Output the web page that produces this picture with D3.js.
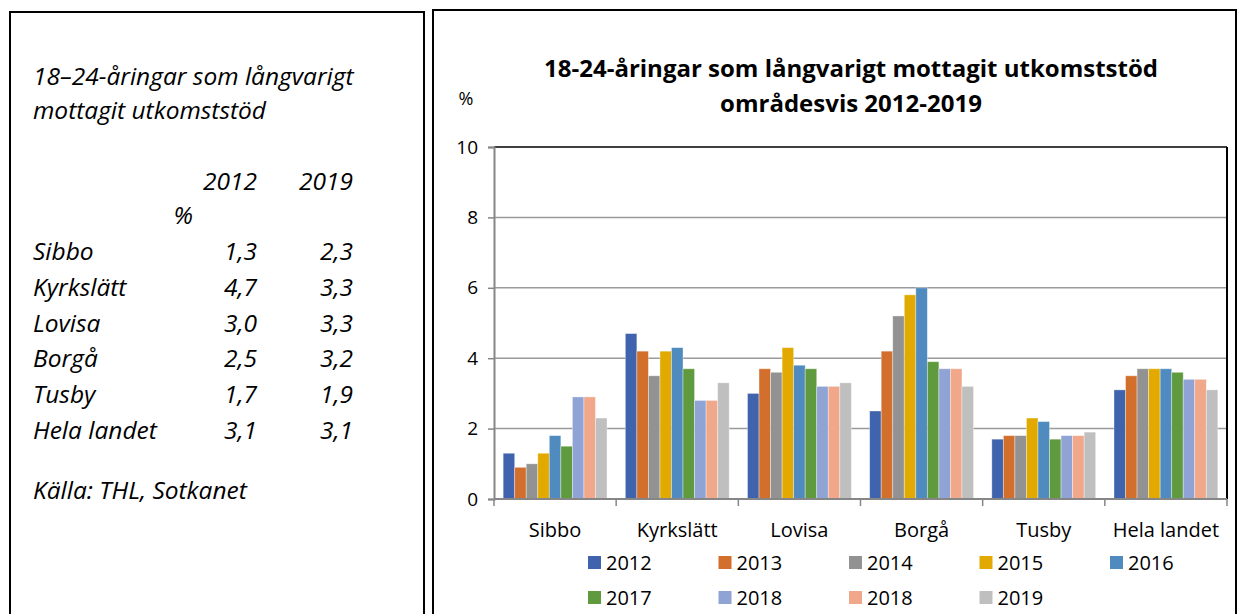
<!DOCTYPE html>
<html>
<head>
<meta charset="utf-8">
<script src="https://cdn.jsdelivr.net/npm/d3@7"></script>
<style>
  body { margin: 0; background: #fff; }
  svg text { font-family: "Open Sans", Lato, sans-serif; fill: #000; }
</style>
</head>
<body>
<svg id="chart" width="1237" height="614"></svg>
<script>
// chart data
const areas = ["Sibbo", "Kyrkslätt", "Lovisa", "Borgå", "Tusby", "Hela landet"];
const years = ["2012", "2013", "2014", "2015", "2016", "2017", "2018", "2018", "2019"];
const colors = ["#3f64ad", "#d36f2c", "#929292", "#e2aa00", "#4f8bbf", "#609a3e", "#8fa3d4", "#f0a78a", "#bfbfbf"];
// values per area, one per year series
const sibbo      = [1.3, 0.9, 1.0, 1.3, 1.8, 1.5, 2.9, 2.9, 2.3];
const kyrkslatt  = [4.7, 4.2, 3.5, 4.2, 4.3, 3.7, 2.8, 2.8, 3.3];
const lovisa     = [3.0, 3.7, 3.6, 4.3, 3.8, 3.7, 3.2, 3.2, 3.3];
const borga      = [2.5, 4.2, 5.2, 5.8, 6.0, 3.9, 3.7, 3.7, 3.2];
const tusby      = [1.7, 1.8, 1.8, 2.3, 2.2, 1.7, 1.8, 1.8, 1.9];
const helaLandet = [3.1, 3.5, 3.7, 3.7, 3.7, 3.6, 3.4, 3.4, 3.1];
const values = [sibbo, kyrkslatt, lovisa, borga, tusby, helaLandet];
const yTicks = [0, 2, 4, 6, 8, 10];

// left side text table
const tableRows = [
  ["Sibbo", "1,3", "2,3"],
  ["Kyrkslätt", "4,7", "3,3"],
  ["Lovisa", "3,0", "3,3"],
  ["Borgå", "2,5", "3,2"],
  ["Tusby", "1,7", "1,9"],
  ["Hela landet", "3,1", "3,1"]
];

const svg = d3.select("#chart");

// ---- left text box ----
svg.append("rect")
  .attr("x", 10).attr("y", 12).attr("width", 414).attr("height", 640)
  .attr("fill", "none").attr("stroke", "#000").attr("stroke-width", 2);

const left = svg.append("g").style("font-style", "italic").style("font-size", "24.5px");
left.append("text").attr("x", 33).attr("y", 85).text("18–24-åringar som långvarigt");
left.append("text").attr("x", 33).attr("y", 119).text("mottagit utkomststöd");
left.append("text").attr("x", 257).attr("y", 190).attr("text-anchor", "end").text("2012");
left.append("text").attr("x", 353).attr("y", 190).attr("text-anchor", "end").text("2019");
left.append("text").attr("x", 193).attr("y", 224).attr("text-anchor", "end").text("%");
tableRows.forEach((r, i) => {
  const y = 260 + i * 35.8;
  left.append("text").attr("x", 33).attr("y", y).text(r[0]);
  left.append("text").attr("x", 257).attr("y", y).attr("text-anchor", "end").text(r[1]);
  left.append("text").attr("x", 353).attr("y", y).attr("text-anchor", "end").text(r[2]);
});
left.append("text").attr("x", 33).attr("y", 499).text("Källa: THL, Sotkanet");

// ---- right chart box ----
svg.append("rect")
  .attr("x", 433).attr("y", 10).attr("width", 803).attr("height", 640)
  .attr("fill", "none").attr("stroke", "#000").attr("stroke-width", 2);

const plot = { left: 494, right: 1227, top: 147, bottom: 499 };

const x0 = d3.scaleBand().domain(areas).range([plot.left, plot.right]).paddingInner(0.15).paddingOuter(0.075);
const xBand = d3.scaleBand().domain(areas).range([plot.left, plot.right]);
const x1 = d3.scaleBand().domain(d3.range(years.length)).range([0, x0.bandwidth()]);
const y = d3.scaleLinear().domain([0, 10]).range([plot.bottom, plot.top]);

// gridlines
svg.append("g").selectAll("line").data(yTicks.filter(d => d > 0 && d < 10)).join("line")
  .attr("x1", plot.left).attr("x2", plot.right)
  .attr("y1", d => y(d)).attr("y2", d => y(d))
  .attr("stroke", "#9a9a9a").attr("stroke-width", 1.5);

// bars
const groups = svg.append("g").selectAll("g").data(areas).join("g")
  .attr("transform", d => `translate(${x0(d)},0)`);
groups.selectAll("rect").data((d, i) => values[i].map((v, j) => ({ v, j }))).join("rect")
  .attr("x", d => x1(d.j))
  .attr("width", x1.bandwidth())
  .attr("y", d => y(d.v))
  .attr("height", d => y(0) - y(d.v))
  .attr("fill", d => colors[d.j])
  .attr("stroke", "rgba(255,255,255,0.45)")
  .attr("stroke-width", 0.8);

// plot area border top and right
svg.append("line").attr("x1", plot.left).attr("x2", plot.right).attr("y1", plot.top).attr("y2", plot.top)
  .attr("stroke", "#000").attr("stroke-width", 1.5);
svg.append("line").attr("x1", plot.right).attr("x2", plot.right).attr("y1", plot.top).attr("y2", plot.bottom)
  .attr("stroke", "#000").attr("stroke-width", 2);

// y axis
const yAxis = svg.append("g").attr("transform", `translate(${plot.left},0)`)
  .call(d3.axisLeft(y).tickValues(yTicks).tickSize(6).tickPadding(10));
yAxis.select(".domain").attr("stroke", "#868686").attr("stroke-width", 2);
yAxis.selectAll(".tick line").attr("stroke", "#868686").attr("stroke-width", 1.5);
yAxis.selectAll("text").style("font-size", "19px").attr("font-family", null);

// x axis: category ticks on band edges
const xAxis = svg.append("g").attr("transform", `translate(0,${plot.bottom})`);
xAxis.append("line").attr("x1", plot.left).attr("x2", plot.right)
  .attr("stroke", "#868686").attr("stroke-width", 2);
xAxis.selectAll(".edge").data(areas.concat([null])).join("line").attr("class", "edge")
  .attr("x1", (d, i) => i < areas.length ? xBand(d) : plot.right)
  .attr("x2", (d, i) => i < areas.length ? xBand(d) : plot.right)
  .attr("y1", 0).attr("y2", 7)
  .attr("stroke", "#868686").attr("stroke-width", 1.5);
xAxis.selectAll("text").data(areas).join("text")
  .attr("x", d => xBand(d) + xBand.bandwidth() / 2)
  .attr("y", 38)
  .attr("text-anchor", "middle")
  .style("font-size", "20px")
  .text(d => d);

// titles
svg.append("text").attr("x", 851).attr("y", 77).attr("text-anchor", "middle")
  .style("font-size", "24px").style("font-weight", "bold")
  .text("18-24-åringar som långvarigt mottagit utkomststöd");
svg.append("text").attr("x", 851).attr("y", 112).attr("text-anchor", "middle")
  .style("font-size", "24px").style("font-weight", "bold")
  .text("områdesvis 2012-2019");
svg.append("text").attr("x", 466).attr("y", 105).attr("text-anchor", "middle")
  .style("font-size", "18px").text("%");

// legend
const legend = svg.append("g").selectAll("g").data(years).join("g")
  .attr("transform", (d, i) => `translate(${588 + (i % 5) * 130.5},${556 + Math.floor(i / 5) * 35})`);
legend.append("rect").attr("width", 13).attr("height", 13).attr("fill", (d, i) => colors[i]);
legend.append("text").attr("x", 18).attr("y", 14).style("font-size", "20px").text(d => d);
</script>
</body>
</html>
